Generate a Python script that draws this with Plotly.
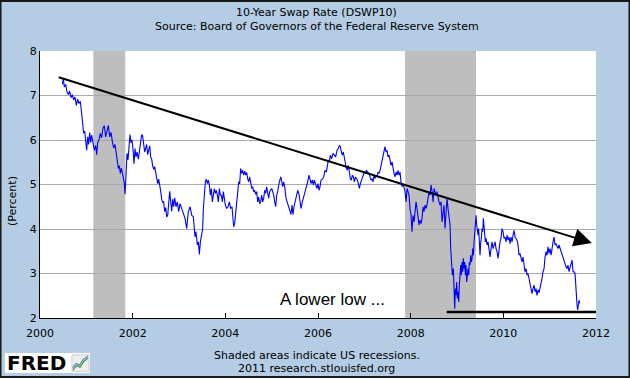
import plotly.graph_objects as go

# ---- data (decimal year, percent) ----
years = [
    2000.482, 2000.504, 2000.525, 2000.554, 2000.583, 2000.612, 2000.640, 2000.669, 2000.698, 2000.727,
    2000.755, 2000.784, 2000.813, 2000.842, 2000.871, 2000.899, 2000.921, 2000.943, 2000.964, 2000.986,
    2001.007, 2001.029, 2001.050, 2001.072, 2001.094, 2001.115, 2001.144, 2001.173, 2001.202, 2001.223,
    2001.245, 2001.273, 2001.302, 2001.331, 2001.360, 2001.389, 2001.417, 2001.446, 2001.475, 2001.504,
    2001.533, 2001.561, 2001.590, 2001.619, 2001.648, 2001.669, 2001.691, 2001.712, 2001.734, 2001.756,
    2001.777, 2001.799, 2001.820, 2001.835, 2001.849, 2001.863, 2001.878, 2001.899, 2001.921, 2001.943,
    2001.964, 2001.986, 2002.007, 2002.029, 2002.051, 2002.072, 2002.094, 2002.123, 2002.151, 2002.173,
    2002.194, 2002.216, 2002.238, 2002.259, 2002.281, 2002.302, 2002.324, 2002.346, 2002.367, 2002.389,
    2002.410, 2002.432, 2002.454, 2002.475, 2002.497, 2002.518, 2002.540, 2002.561, 2002.583, 2002.605,
    2002.626, 2002.648, 2002.669, 2002.691, 2002.713, 2002.734, 2002.756, 2002.777, 2002.799, 2002.821,
    2002.842, 2002.864, 2002.885, 2002.907,
    2002.935, 2002.964, 2002.993, 2003.022, 2003.058, 2003.094, 2003.130, 2003.166, 2003.202, 2003.238,
    2003.274, 2003.310, 2003.346, 2003.367, 2003.396, 2003.418, 2003.439, 2003.461, 2003.482, 2003.511,
    2003.526, 2003.547, 2003.569, 2003.590, 2003.612, 2003.633, 2003.655, 2003.677, 2003.698, 2003.720,
    2003.741, 2003.763, 2003.785, 2003.806, 2003.828, 2003.849, 2003.871, 2003.892, 2003.914, 2003.936,
    2003.957, 2003.979, 2004.000, 2004.029, 2004.058, 2004.087, 2004.115, 2004.144, 2004.159, 2004.180,
    2004.202, 2004.223, 2004.245, 2004.267, 2004.288, 2004.310, 2004.331, 2004.353, 2004.374, 2004.396,
    2004.418, 2004.439, 2004.461, 2004.482, 2004.504, 2004.526, 2004.547, 2004.569, 2004.590, 2004.612,
    2004.633, 2004.655, 2004.677, 2004.698, 2004.720, 2004.741, 2004.763, 2004.785, 2004.806, 2004.828,
    2004.849, 2004.871, 2004.892, 2004.914, 2004.936, 2004.957, 2004.979, 2005.000, 2005.022, 2005.044,
    2005.065, 2005.087, 2005.108, 2005.130, 2005.152, 2005.173, 2005.195, 2005.216, 2005.238, 2005.259,
    2005.281,
    2005.310, 2005.331, 2005.360, 2005.389, 2005.418, 2005.439, 2005.461, 2005.482, 2005.504, 2005.533,
    2005.562, 2005.590, 2005.612, 2005.633, 2005.662, 2005.691, 2005.720, 2005.749, 2005.777, 2005.806,
    2005.828, 2005.849, 2005.878, 2005.900, 2005.921, 2005.950, 2005.979, 2006.000, 2006.022, 2006.044,
    2006.065, 2006.094, 2006.123, 2006.151, 2006.180, 2006.202, 2006.223, 2006.245, 2006.267, 2006.295,
    2006.324, 2006.353, 2006.382, 2006.411, 2006.439, 2006.461, 2006.483, 2006.504, 2006.526, 2006.547,
    2006.569, 2006.590, 2006.612, 2006.634, 2006.655, 2006.677, 2006.698, 2006.720, 2006.742, 2006.763,
    2006.785, 2006.806, 2006.828, 2006.849, 2006.871, 2006.893, 2006.914, 2006.936, 2006.957, 2006.979,
    2007.000, 2007.022, 2007.044, 2007.073, 2007.101, 2007.123, 2007.144, 2007.166, 2007.188, 2007.209,
    2007.231, 2007.252, 2007.274, 2007.296, 2007.317, 2007.339, 2007.360, 2007.382, 2007.403, 2007.425,
    2007.446, 2007.468, 2007.490, 2007.511, 2007.533, 2007.555, 2007.576, 2007.598, 2007.619, 2007.641,
    2007.662, 2007.684, 2007.706, 2007.727, 2007.749, 2007.770,
    2007.792, 2007.814, 2007.835, 2007.857, 2007.878, 2007.900, 2007.922, 2007.943, 2007.965, 2007.986,
    2008.008, 2008.029, 2008.051, 2008.073, 2008.094, 2008.116, 2008.137, 2008.159, 2008.180, 2008.202,
    2008.224, 2008.245, 2008.267, 2008.288, 2008.310, 2008.332, 2008.353, 2008.375, 2008.396, 2008.418,
    2008.439, 2008.461, 2008.483, 2008.504, 2008.526, 2008.547, 2008.569, 2008.591, 2008.612, 2008.634,
    2008.655, 2008.677, 2008.698, 2008.720, 2008.742, 2008.763, 2008.785, 2008.806, 2008.828, 2008.850,
    2008.864, 2008.886, 2008.900, 2008.922, 2008.936, 2008.950, 2008.965, 2008.979, 2008.994, 2009.008,
    2009.022, 2009.037, 2009.051, 2009.065, 2009.080, 2009.094, 2009.109, 2009.123, 2009.137, 2009.152,
    2009.166, 2009.181, 2009.195, 2009.209, 2009.224, 2009.238, 2009.253, 2009.267, 2009.281, 2009.296,
    2009.310, 2009.325, 2009.339, 2009.353, 2009.368, 2009.382, 2009.397, 2009.411, 2009.425, 2009.440,
    2009.454, 2009.468, 2009.483, 2009.497, 2009.512, 2009.526, 2009.540, 2009.555, 2009.569, 2009.584,
    2009.598, 2009.612, 2009.627, 2009.648, 2009.670, 2009.691, 2009.713, 2009.735, 2009.756, 2009.778,
    2009.799, 2009.821, 2009.843, 2009.864, 2009.886, 2009.907, 2009.929, 2009.950, 2009.972, 2009.994,
    2010.015,
    2010.037, 2010.058, 2010.080, 2010.101, 2010.123, 2010.145, 2010.166, 2010.188, 2010.209, 2010.231,
    2010.253, 2010.274, 2010.296, 2010.317, 2010.339, 2010.360, 2010.382, 2010.404, 2010.425, 2010.447,
    2010.468, 2010.490, 2010.512, 2010.533, 2010.555, 2010.576, 2010.598, 2010.619, 2010.641, 2010.663,
    2010.684, 2010.706, 2010.727, 2010.749, 2010.771, 2010.792, 2010.814, 2010.835, 2010.857, 2010.879,
    2010.900, 2010.922, 2010.943, 2010.965, 2010.986, 2011.008, 2011.030, 2011.051, 2011.073, 2011.094,
    2011.116, 2011.138, 2011.159, 2011.181, 2011.202, 2011.224, 2011.245, 2011.267, 2011.288, 2011.310,
    2011.332, 2011.353, 2011.375, 2011.396, 2011.418, 2011.440, 2011.461, 2011.483, 2011.504, 2011.526,
    2011.548, 2011.562, 2011.576, 2011.591, 2011.605, 2011.620, 2011.634, 2011.648,
]

swap_rate = [
    7.25, 7.37, 7.19, 7.25, 7.08, 7.02, 7.10, 6.95, 7.02, 6.90,
    6.97, 6.78, 6.92, 6.82, 6.87, 6.63, 6.41, 6.15, 6.20, 6.03,
    5.77, 6.07, 5.90, 6.17, 5.94, 6.11, 5.94, 5.77, 5.88, 5.67,
    5.94, 6.00, 6.15, 6.05, 6.27, 6.32, 6.07, 6.22, 6.33, 6.07,
    6.17, 5.97, 5.82, 5.90, 5.66, 5.51, 5.36, 5.42, 5.25, 5.37,
    5.28, 5.15, 5.02, 4.78, 5.06, 5.47, 5.70, 5.55, 5.90, 6.12,
    5.94, 6.00, 5.79, 5.47, 5.81, 5.62, 5.73, 5.57, 5.79, 6.03,
    6.12, 6.09, 5.88, 5.73, 5.82, 5.90, 5.67, 5.81, 5.87, 5.62,
    5.57, 5.42, 5.34, 5.40, 5.27, 5.19, 5.02, 5.12, 4.91, 4.85,
    4.67, 4.60, 4.61, 4.39, 4.48, 4.27, 4.31, 4.57, 4.85, 4.61,
    4.40, 4.67, 4.50, 4.70,
    4.50, 4.61, 4.39, 4.57, 4.46, 4.39, 4.24, 4.01, 4.39, 4.50,
    4.31, 4.27, 3.82, 3.94, 3.64, 3.71, 3.43, 3.71, 3.86, 4.01,
    4.46, 4.76, 5.06, 5.12, 5.02, 5.10, 4.99, 4.76, 4.91, 4.61,
    4.84, 4.91, 4.80, 4.87, 4.76, 4.61, 4.91, 4.76, 4.76, 4.61,
    4.84, 4.61, 4.54, 4.46, 4.50, 4.61, 4.46, 4.50, 4.24, 4.05,
    4.12, 4.39, 4.61, 4.91, 5.06, 5.02, 5.36, 5.25, 5.32, 5.21,
    5.30, 5.21, 5.27, 5.13, 5.06, 5.17, 5.06, 4.91, 4.95, 4.84,
    4.87, 4.78, 4.84, 4.61, 4.72, 4.57, 4.61, 4.76, 4.61, 4.69,
    4.87, 4.80, 4.95, 4.84, 4.69, 4.84, 4.87, 4.91, 4.84, 4.76,
    4.61, 4.50, 4.76, 4.84, 4.99, 5.10, 5.17, 5.08, 4.95, 5.06,
    4.95,
    4.69, 4.61, 4.54, 4.42, 4.33, 4.54, 4.33, 4.50, 4.61, 4.76,
    4.87, 4.78, 4.57, 4.46, 4.61, 4.72, 4.84, 4.91, 5.06, 5.21,
    5.10, 5.02, 5.10, 4.99, 5.10, 5.02, 4.91, 5.02, 4.87, 4.95,
    5.10, 5.12, 5.17, 5.32, 5.28, 5.42, 5.55, 5.51, 5.66, 5.58,
    5.70, 5.66, 5.62, 5.77, 5.81, 5.88, 5.85, 5.73, 5.66, 5.73,
    5.58, 5.47, 5.36, 5.32, 5.43, 5.28, 5.13, 5.10, 5.21, 5.17,
    5.06, 5.17, 5.13, 5.10, 5.02, 4.91, 5.02, 5.10, 5.17, 5.21,
    5.28, 5.25, 5.32, 5.28, 5.25, 5.17, 5.10, 5.13, 5.06, 5.21,
    5.13, 5.21, 5.17, 5.28, 5.25, 5.32, 5.43, 5.51, 5.66, 5.81,
    5.85, 5.73, 5.77, 5.62, 5.66, 5.55, 5.43, 5.51, 5.36, 5.25,
    5.17, 5.28, 5.21, 5.32, 5.21, 5.28,
    5.06, 4.95, 5.02, 4.91, 4.84, 4.61, 4.91, 4.84, 4.76, 4.46,
    4.31, 3.94, 4.31, 4.16, 4.39, 4.61, 4.46, 4.31, 4.09, 4.20,
    4.12, 4.24, 4.50, 4.39, 4.54, 4.46, 4.54, 4.69, 4.84, 4.76,
    4.99, 4.84, 4.61, 4.91, 4.80, 4.76, 4.84, 4.69, 4.61, 4.54,
    4.61, 4.16, 4.39, 4.54, 4.01, 4.39, 4.69, 4.46, 4.24, 4.09,
    3.56, 3.30, 2.96, 3.11, 2.66, 2.21, 2.66, 2.51, 2.81, 2.44,
    2.59, 2.36, 2.74, 3.04, 3.19, 2.96, 3.26, 3.04, 3.34, 3.11,
    3.26, 2.96, 3.19, 2.81, 3.04, 3.11, 2.96, 3.26, 3.19, 3.41,
    3.26, 3.34, 3.56, 3.41, 3.71, 3.86, 4.16, 4.31, 4.09, 4.01,
    3.86, 4.01, 3.79, 3.41, 3.71, 3.79, 4.01, 3.94, 4.24, 4.09,
    3.86, 3.71, 3.79, 3.64, 3.71, 3.56, 3.37, 3.56, 3.71, 3.56,
    3.64, 3.71, 3.56, 3.49, 3.34, 3.56, 3.71, 3.79, 4.01, 3.94,
    3.79,
    3.82, 3.71, 3.86, 3.75, 3.82, 3.67, 3.82, 3.71, 3.86, 3.97,
    3.82, 3.79, 3.75, 3.64, 3.41, 3.45, 3.37, 3.26, 3.37, 3.19,
    3.04, 3.11, 2.96, 3.00, 2.89, 2.81, 2.63, 2.55, 2.66, 2.74,
    2.59, 2.66, 2.51, 2.63, 2.57, 2.66, 2.74, 2.89, 3.04, 3.11,
    3.37, 3.49, 3.41, 3.60, 3.45, 3.56, 3.41, 3.64, 3.71, 3.82,
    3.64, 3.67, 3.60, 3.56, 3.64, 3.56, 3.49, 3.41, 3.34, 3.26,
    3.22, 3.15, 3.11, 3.19, 3.04, 3.11, 3.19, 3.30, 3.04, 3.04,
    3.00, 2.66, 2.44, 2.29, 2.18, 2.36, 2.40, 2.33,
]

recession_starts = [2001.15, 2007.88]
recession_ends = [2001.84, 2009.41]

x_tick_vals = [2000, 2002, 2004, 2006, 2008, 2010, 2012]
x_tick_text = ["2000", "2002", "2004", "2006", "2008", "2010", "2012"]
y_tick_vals = [2, 3, 4, 5, 6, 7, 8]

# annotation lines drawn on the chart
trend_start = (2000.37, 7.42)
trend_end = (2011.91, 3.685)
low_line_x = (2008.78, 2012.0)
low_line_y = 2.135

FONT = "DejaVu Sans"
BG = "#b4cce4"

fig = go.Figure()
fig.add_trace(go.Scatter(
    x=years, y=swap_rate, mode="lines",
    line=dict(color="#0000ff", width=1.1),
    hoverinfo="skip", showlegend=False,
))

shapes = []
for s, e in zip(recession_starts, recession_ends):
    shapes.append(dict(type="rect", xref="x", yref="paper", x0=s, x1=e, y0=0, y1=1,
                       fillcolor="#bebebe", line=dict(width=0), layer="between"))
shapes.append(dict(type="line", xref="x", yref="y",
                   x0=low_line_x[0], x1=low_line_x[1], y0=low_line_y, y1=low_line_y,
                   line=dict(color="black", width=2.5)))
# outer border of the image
shapes.append(dict(type="rect", xref="paper", yref="paper",
                   x0=-0.0710, x1=1.0602, y0=-0.2209, y1=1.1873,
                   line=dict(color="#1a1a1a", width=2), layer="above"))
# FRED logo box
shapes.append(dict(type="rect", xref="paper", yref="paper",
                   x0=-0.063, x1=0.0899, y0=-0.206, y1=-0.131,
                   fillcolor="white", line=dict(width=0), layer="below"))
# small chart icon inside logo
shapes.append(dict(type="rect", xref="paper", yref="paper",
                   x0=0.0575, x1=0.0880, y0=-0.200, y1=-0.138,
                   fillcolor="#eeeeee", line=dict(color="#cccccc", width=1)))
shapes.append(dict(type="path", xref="paper", yref="paper",
                   path="M 0.059,-0.195 L 0.066,-0.178 L 0.072,-0.184 L 0.079,-0.163 L 0.086,-0.150",
                   line=dict(color="#3a9a3a", width=1.2)))
shapes.append(dict(type="path", xref="paper", yref="paper",
                   path="M 0.059,-0.186 L 0.065,-0.170 L 0.071,-0.176 L 0.078,-0.155 L 0.086,-0.142",
                   line=dict(color="#5a7fd0", width=1.2)))


def note(text, x, y, size=11, family=FONT, **kw):
    return dict(x=x, y=y, xref="paper", yref="paper", text=text, showarrow=False,
                xanchor="center", yanchor="middle",
                font=dict(family=family, size=size, color="black"), **kw)


annotations = [
    dict(x=trend_end[0], y=trend_end[1], ax=trend_start[0], ay=trend_start[1],
         xref="x", yref="y", axref="x", ayref="y", text="", showarrow=True,
         arrowhead=2, arrowsize=1.8, arrowwidth=2, arrowcolor="black"),
    dict(x=2006.32, y=2.42, xref="x", yref="y", text="A lower low ...", showarrow=False,
         xanchor="center", yanchor="middle",
         font=dict(family="Liberation Sans", size=17, color="black")),
    note("10-Year Swap Rate (DSWP10)", 0.498, 1.146),
    note("Source: Board of Governors of the Federal Reserve System", 0.498, 1.0936),
    note("Shaded areas indicate US recessions.", 0.498, -0.1412),
    note("2011 research.stlouisfed.org", 0.498, -0.1884),
    note("(Percent)", -0.0504, 0.438, textangle=-90),
    note("<b>FRED</b>", -0.0054, -0.1685, size=20),
]

fig.update_layout(
    width=630, height=378, autosize=False,
    margin=dict(l=40, r=34, t=51, b=60, pad=0),
    paper_bgcolor=BG, plot_bgcolor="white",
    shapes=shapes, annotations=annotations, showlegend=False,
    font=dict(family=FONT, size=11, color="black"),
    xaxis=dict(range=[2000, 2012], tickvals=x_tick_vals, ticktext=x_tick_text,
               ticks="inside", ticklen=5, tickwidth=1, tickcolor="black",
               ticklabelstandoff=5,
               showline=True, linecolor="black", linewidth=1,
               showgrid=False, zeroline=False, fixedrange=True,
               tickfont=dict(family=FONT, size=11, color="black")),
    yaxis=dict(range=[2, 8], tickvals=y_tick_vals,
               ticks="", showline=True, linecolor="black", linewidth=1,
               showgrid=True, gridcolor="#a9a9a9", gridwidth=1,
               zeroline=False, fixedrange=True,
               tickfont=dict(family=FONT, size=11, color="black")),
)

fig.write_html(
    "out.html",
    config={"displayModeBar": False, "staticPlot": True},
    post_script="document.body.style.margin='0';document.body.style.overflow='hidden';",
)
